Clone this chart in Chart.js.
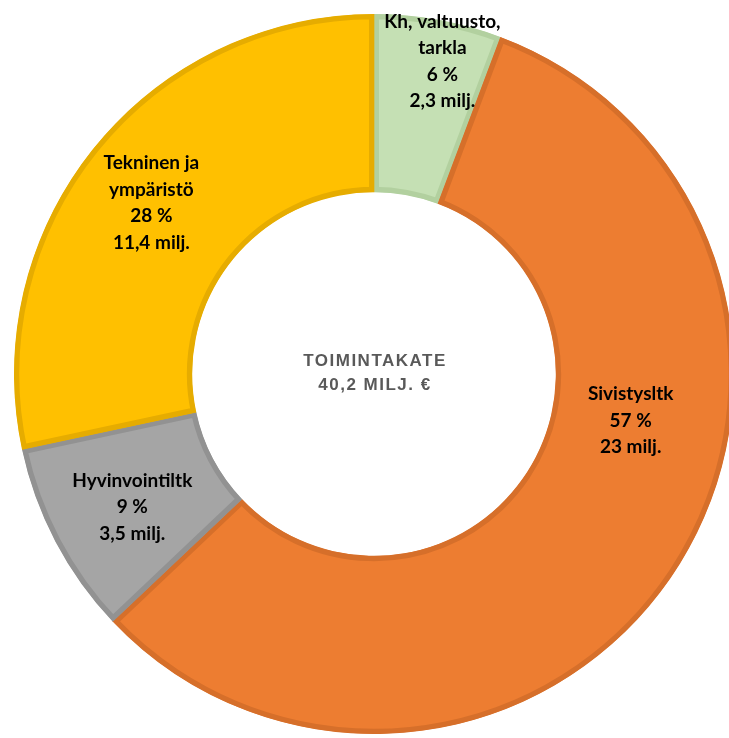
<!DOCTYPE html>
<html>
<head>
<meta charset="utf-8">
<script src="https://cdn.jsdelivr.net/npm/chart.js@4.4.1/dist/chart.umd.min.js"></script>
<style>
    html, body { margin: 0; padding: 0; background: #ffffff; overflow: hidden; }
    #wrap { position: absolute; left: 0; top: 0; width: 748px; height: 748px; }
</style>
</head>
<body>
<div id="wrap"><canvas id="budgetChart"></canvas></div>
<script>
// Toimintakate by sector (milj. €)
const sectors = ['Kh, valtuusto, tarkla', 'Sivistysltk', 'Hyvinvointiltk', 'Tekninen ja ympäristö'];
const labelLines = [
    ['Kh, valtuusto,', 'tarkla'],
    ['Sivistysltk'],
    ['Hyvinvointiltk'],
    ['Tekninen ja', 'ympäristö']
];
const values = [2.3, 23, 3.5, 11.4];
const percents = ['6 %', '57 %', '9 %', '28 %'];
const valueTexts = ['2,3 milj.', '23 milj.', '3,5 milj.', '11,4 milj.'];
const centerTitle = ['TOIMINTAKATE', '40,2 MILJ. €'];

const fillColors = ['#c5e0b4', '#ed7d31', '#a5a5a5', '#ffc000'];
const edgeColors = ['#b2d09f', '#d66f2a', '#929292', '#e6ac00'];

// label nudges relative to the slice centroid (px)
const labelShift = [[20, -46], [31, -103], [-2, 7], [-12, -1]];

const sliceLabels = {
    id: 'sliceLabels',
    afterDatasetsDraw(chart) {
        const ctx = chart.ctx;
        const meta = chart.getDatasetMeta(0);
        ctx.save();
        ctx.textAlign = 'center';
        ctx.textBaseline = 'middle';
        ctx.fillStyle = '#000000';
        ctx.font = 'bold 19px Lato, "Open Sans", sans-serif';
        meta.data.forEach((arc, i) => {
            const pos = arc.tooltipPosition();
            const lines = labelLines[i].concat([percents[i], valueTexts[i]]);
            const lh = 26.5;
            const cx = pos.x + labelShift[i][0];
            const cy = pos.y + labelShift[i][1];
            const y0 = cy - (lines.length - 1) * lh / 2;
            lines.forEach((t, k) => ctx.fillText(t, cx, y0 + k * lh));
        });

        // centre text
        const first = meta.data[0];
        ctx.fillStyle = '#595959';
        ctx.font = 'bold 17px "Liberation Sans", Arial, sans-serif';
        ctx.letterSpacing = '1.5px';
        ctx.fillText(centerTitle[0], first.x + 1, first.y - 13);
        ctx.fillText(centerTitle[1], first.x + 1, first.y + 11);
        ctx.restore();
    }
};

new Chart(document.getElementById('budgetChart'), {
    type: 'doughnut',
    data: {
        labels: sectors,
        datasets: [{
            data: values,
            backgroundColor: fillColors,
            borderColor: edgeColors,
            borderWidth: 5,
            borderAlign: 'inner',
            borderJoinStyle: 'miter'
        }]
    },
    options: {
        responsive: true,
        maintainAspectRatio: false,
        animation: false,
        cutout: '50.5%',
        layout: { padding: { left: 14, top: 14, right: 14, bottom: 14 } },
        plugins: {
            legend: { display: false },
            tooltip: { enabled: false }
        }
    },
    plugins: [sliceLabels]
});
</script>
</body>
</html>
